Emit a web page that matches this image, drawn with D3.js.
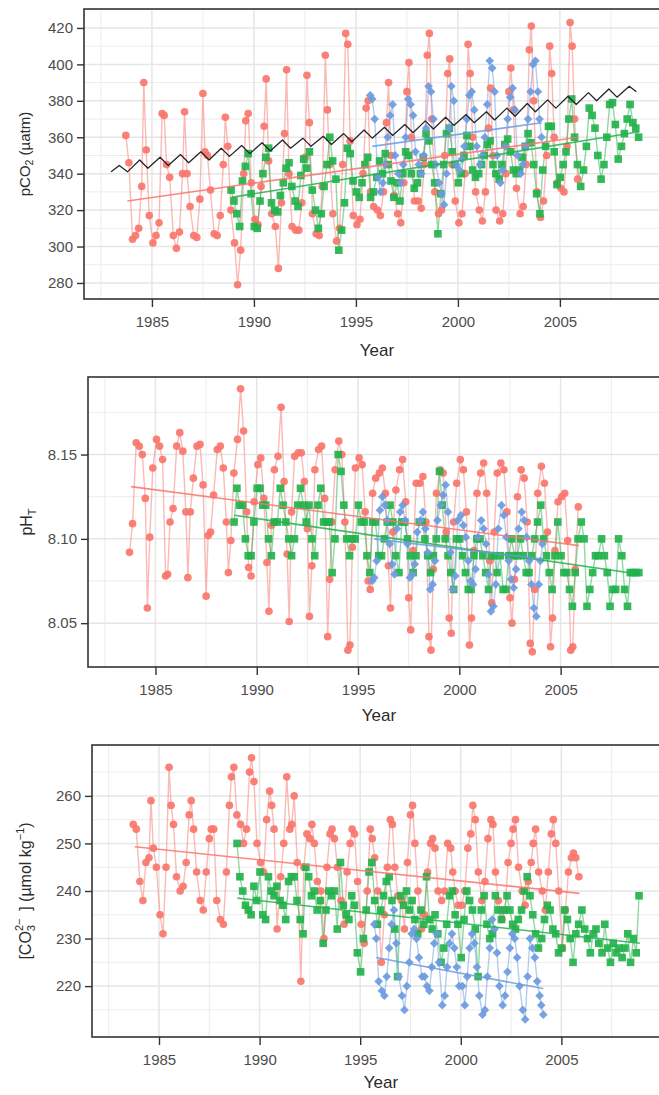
<!DOCTYPE html>
<html>
<head>
<meta charset="utf-8">
<script src="https://cdn.jsdelivr.net/npm/d3@7"></script>
<style>
  body { margin: 0; background: #fff; }
  svg { display: block; font-family: "Liberation Sans", Arial, sans-serif; }
</style>
</head>
<body>
<svg id="chart" width="659" height="1095"></svg>
<script>
// ---- data ----
// tick labels
const yearTicks = [1985, 1990, 1995, 2000, 2005];
const pco2Ticks = [280, 300, 320, 340, 360, 380, 400, 420];
const phTicks = [8.05, 8.10, 8.15];
const co3Ticks = [220, 230, 240, 250, 260];

// red station (circles)
const redYears = [
  1983.72,1983.87,
  1984.05,1984.2,1984.35,1984.5,1984.6,1984.72,1984.87,
  1985.05,1985.2,1985.35,1985.5,1985.6,1985.72,1985.87,
  1986.05,1986.2,1986.35,1986.5,1986.6,1986.72,1986.87,
  1987.05,1987.2,1987.35,1987.5,1987.6,1987.72,1987.87,
  1988.05,1988.2,1988.35,1988.5,1988.6,1988.72,1988.87,
  1989.05,1989.2,1989.35,1989.5,1989.6,1989.72,1989.87,
  1990.05,1990.2,1990.35,1990.5,1990.6,1990.72,1990.87,
  1991.05,1991.2,1991.35,1991.5,1991.6,1991.72,1991.87,
  1992.05,1992.2,1992.35,1992.5,1992.6,1992.72,1992.87,
  1993.05,1993.2,1993.35,1993.5,1993.6,1993.72,1993.87,
  1994.05,1994.2,1994.35,1994.5,1994.6,1994.72,1994.87,
  1995.05,1995.2,1995.35,1995.5,1995.6,1995.72,1995.87,
  1996.05,1996.2,1996.35,1996.5,1996.6,1996.72,1996.87,
  1997.05,1997.2,1997.35,1997.5,1997.6,1997.72,1997.87,
  1998.05,1998.2,1998.35,1998.5,1998.6,1998.72,1998.87,
  1999.05,1999.2,1999.35,1999.5,1999.6,1999.72,1999.87,
  2000.05,2000.2,2000.35,2000.5,2000.6,2000.72,2000.87,
  2001.05,2001.2,2001.35,2001.5,2001.6,2001.72,2001.87,
  2002.05,2002.2,2002.35,2002.5,2002.6,2002.72,2002.87,
  2003.05,2003.2,2003.35,2003.5,2003.6,2003.72,2003.87,
  2004.05,2004.2,2004.35,2004.5,2004.6,2004.72,2004.87,
  2005.05,2005.2,2005.35,2005.5,2005.6,2005.72,2005.87
];
const redPco2 = [
  361,346,
  304,306,310,333,390,353,317,
  302,306,313,373,372,345,338,
  306,299,308,340,374,340,322,
  306,305,326,384,352,350,331,
  307,306,317,345,371,355,320,
  302,279,298,340,369,373,335,
  315,312,333,366,392,347,318,
  311,288,324,362,397,340,311,
  309,309,324,349,394,368,318,
  307,306,333,405,375,345,318,
  303,310,345,417,411,358,317,
  312,315,340,376,380,330,322,
  320,317,330,368,390,350,328,
  318,313,335,385,401,360,325,
  325,321,345,405,417,370,330,
  318,320,350,395,403,345,325,
  313,318,340,411,395,360,330,
  320,314,330,365,387,350,320,
  314,318,340,385,398,375,332,
  318,322,345,408,421,380,330,
  316,325,350,410,395,360,335,
  332,330,355,423,410,370,337
];
const redPh = [
  8.092,8.109,
  8.157,8.155,8.150,8.124,8.059,8.101,8.142,
  8.159,8.155,8.147,8.078,8.079,8.110,8.118,
  8.155,8.163,8.152,8.116,8.077,8.116,8.136,
  8.155,8.156,8.132,8.066,8.102,8.104,8.126,
  8.153,8.155,8.142,8.110,8.080,8.099,8.139,
  8.159,8.189,8.164,8.116,8.083,8.078,8.122,
  8.144,8.148,8.124,8.086,8.057,8.108,8.141,
  8.149,8.178,8.134,8.091,8.051,8.116,8.149,
  8.151,8.151,8.134,8.106,8.054,8.084,8.141,
  8.153,8.155,8.124,8.042,8.076,8.110,8.141,
  8.158,8.150,8.110,8.034,8.037,8.095,8.142,
  8.148,8.144,8.116,8.075,8.070,8.127,8.136,
  8.139,8.142,8.127,8.084,8.059,8.104,8.129,
  8.141,8.147,8.122,8.065,8.046,8.093,8.133,
  8.133,8.137,8.110,8.042,8.034,8.082,8.127,
  8.141,8.139,8.104,8.053,8.044,8.110,8.133,
  8.147,8.141,8.116,8.037,8.053,8.093,8.127,
  8.139,8.145,8.127,8.087,8.062,8.104,8.139,
  8.145,8.141,8.116,8.065,8.050,8.076,8.125,
  8.141,8.136,8.110,8.038,8.033,8.070,8.127,
  8.143,8.133,8.104,8.036,8.053,8.093,8.122,
  8.125,8.127,8.099,8.034,8.036,8.082,8.119
];
const redCo3 = [
  254,253,
  242,238,246,247,259,249,245,
  235,231,245,266,258,254,243,
  240,241,246,256,259,253,244,
  238,236,244,251,253,253,238,
  234,233,244,258,264,266,256,
  254,250,253,265,268,263,250,
  246,244,255,261,258,253,232,
  243,250,264,253,254,260,246,
  221,245,252,251,254,250,242,
  240,230,245,252,253,251,245,
  238,233,244,250,253,252,242,
  233,229,240,253,251,247,240,
  225,235,245,255,254,245,239,
  238,232,246,256,258,250,240,
  232,235,244,250,251,249,240,
  238,240,250,249,244,240,237,
  237,240,249,252,258,255,244,
  238,242,251,255,254,244,238,
  234,236,246,250,253,255,245,
  240,237,242,246,250,253,244,
  240,236,244,252,255,250,240,
  228,236,244,247,248,247,243
];

// green station (squares)
const greenYears = [
  1988.88,
  1989.02,1989.16,1989.3,1989.44,1989.58,1989.72,1989.86,
  1990.02,1990.16,1990.3,1990.44,1990.58,1990.72,1990.86,
  1991.02,1991.16,1991.3,1991.44,1991.58,1991.72,1991.86,
  1992.02,1992.16,1992.3,1992.44,1992.58,1992.72,1992.86,
  1993.02,1993.16,1993.3,1993.44,1993.58,1993.72,1993.86,
  1994.02,1994.16,1994.3,1994.44,1994.58,1994.72,1994.86,
  1995.02,1995.16,1995.3,1995.44,1995.58,1995.72,1995.86,
  1996.02,1996.16,1996.3,1996.44,1996.58,1996.72,1996.86,
  1997.02,1997.16,1997.3,1997.44,1997.58,1997.72,1997.86,
  1998.02,1998.16,1998.3,1998.44,1998.58,1998.72,1998.86,
  1999.02,1999.16,1999.3,1999.44,1999.58,1999.72,1999.86,
  2000.02,2000.16,2000.3,2000.44,2000.58,2000.72,2000.86,
  2001.02,2001.16,2001.3,2001.44,2001.58,2001.72,2001.86,
  2002.02,2002.16,2002.3,2002.44,2002.58,2002.72,2002.86,
  2003.02,2003.16,2003.3,2003.44,2003.58,2003.72,2003.86,
  2004.02,2004.16,2004.3,2004.44,2004.58,2004.72,2004.86,
  2005.02,2005.16,2005.3,2005.44,2005.58,2005.72,2005.86,
  2006.02,2006.16,2006.3,2006.44,2006.58,2006.72,2006.86,
  2007.02,2007.16,2007.3,2007.44,2007.58,2007.72,2007.86,
  2008.02,2008.16,2008.3,2008.44,2008.58,2008.72,2008.86
];
const greenPco2 = [
  331,
  325,318,311,336,344,351,329,
  311,310,325,340,349,354,324,
  320,319,328,335,343,346,333,
  325,322,339,348,343,352,331,
  320,310,318,333,345,360,347,
  337,298,309,324,354,351,336,
  330,327,335,345,349,327,330,
  338,347,340,351,345,336,327,
  335,325,340,352,350,340,332,
  335,340,349,362,358,345,335,
  307,329,345,362,365,352,345,
  335,340,350,361,355,342,338,
  340,345,350,356,358,345,340,
  337,345,356,359,352,342,340,
  342,349,355,362,357,345,329,
  318,342,355,366,366,352,334,
  338,345,352,370,381,360,345,
  333,342,355,376,372,365,350,
  337,345,360,378,379,367,348,
  355,362,370,378,368,365,360
];
const greenPh = [
  8.11,
  8.13,8.12,8.12,8.10,8.09,8.09,8.11,
  8.13,8.13,8.12,8.12,8.10,8.09,8.11,
  8.11,8.13,8.12,8.11,8.10,8.09,8.10,
  8.12,8.13,8.12,8.11,8.12,8.10,8.09,
  8.12,8.13,8.11,8.11,8.11,8.08,8.10,
  8.15,8.14,8.12,8.10,8.09,8.10,8.10,
  8.12,8.11,8.11,8.09,8.08,8.11,8.11,
  8.09,8.09,8.10,8.11,8.12,8.11,8.09,
  8.08,8.11,8.11,8.10,8.09,8.08,8.09,
  8.11,8.11,8.10,8.09,8.08,8.09,8.10,
  8.14,8.12,8.10,8.09,8.08,8.07,8.10,
  8.10,8.09,8.08,8.07,8.07,8.09,8.10,
  8.10,8.09,8.08,8.07,8.09,8.09,8.08,
  8.09,8.07,8.07,8.09,8.10,8.09,8.09,
  8.10,8.09,8.08,8.08,8.09,8.10,8.11,
  8.12,8.10,8.09,8.08,8.07,8.09,8.11,
  8.09,8.08,8.08,8.07,8.06,8.08,8.10,
  8.11,8.10,8.06,8.07,8.08,8.09,8.09,
  8.10,8.09,8.08,8.06,8.07,8.07,8.10,
  8.09,8.07,8.06,8.08,8.08,8.08,8.08
];
const greenCo3 = [
  250,
  243,240,237,236,235,241,238,
  244,235,234,243,240,239,241,
  238,237,234,242,243,243,238,
  234,231,245,243,239,240,236,
  238,229,236,240,239,240,232,
  246,237,235,234,239,237,227,
  223,230,236,244,246,238,233,
  236,239,242,243,238,232,222,
  239,237,240,236,238,234,231,
  236,233,243,234,232,235,231,
  225,228,233,239,240,235,233,
  226,234,240,238,236,232,222,
  236,239,233,230,231,239,236,
  234,236,239,236,233,232,234,
  236,240,243,239,235,231,228,
  230,234,237,236,232,231,227,
  228,236,234,230,225,231,233,
  236,232,230,227,231,232,229,
  227,233,228,225,229,227,228,
  226,228,231,225,230,227,239
];

// blue station (diamonds)
const blueYears = [
  1995.7,1995.8,1995.92,
  1996.08,1996.2,1996.32,1996.44,1996.56,1996.68,1996.8,1996.92,
  1997.08,1997.2,1997.32,1997.44,1997.56,1997.68,1997.8,1997.92,
  1998.08,1998.2,1998.32,1998.44,1998.56,1998.68,1998.8,1998.92,
  1999.08,1999.2,1999.32,1999.44,1999.56,1999.68,1999.8,1999.92,
  2000.08,2000.2,2000.32,2000.44,2000.56,2000.68,2000.8,2000.92,
  2001.08,2001.2,2001.32,2001.44,2001.56,2001.68,2001.8,2001.92,
  2002.08,2002.2,2002.32,2002.44,2002.56,2002.68,2002.8,2002.92,
  2003.08,2003.2,2003.32,2003.44,2003.56,2003.68,2003.8,2003.92,
  2004.0,2004.1
];
const bluePco2 = [
  383,381,370,
  338,330,335,345,360,372,378,350,
  340,335,345,360,381,378,372,352,
  345,340,350,365,388,385,370,345,
  335,329,323,340,365,388,380,345,
  342,348,355,370,383,385,375,355,
  345,350,360,378,402,398,385,350,
  335,342,355,370,382,387,375,350,
  340,345,355,370,385,400,402,385,
  370,360
];
const bluePh = [
  8.075,8.077,8.087,
  8.117,8.125,8.120,8.111,8.097,8.085,8.079,8.106,
  8.116,8.120,8.111,8.097,8.077,8.079,8.085,8.104,
  8.111,8.116,8.106,8.092,8.070,8.073,8.087,8.111,
  8.120,8.126,8.132,8.116,8.092,8.070,8.078,8.111,
  8.114,8.108,8.101,8.087,8.075,8.073,8.082,8.101,
  8.111,8.106,8.097,8.079,8.057,8.060,8.073,8.106,
  8.120,8.114,8.101,8.087,8.076,8.071,8.082,8.106,
  8.116,8.111,8.101,8.087,8.073,8.059,8.054,8.073,
  8.087,8.097
];
const blueCo3 = [
  233,230,221,
  219,218,222,228,233,236,229,222,
  218,215,220,225,231,232,230,226,
  222,222,220,219,224,229,231,225,
  216,218,224,229,231,228,224,220,
  220,216,222,228,231,229,224,218,
  214,215,222,228,234,232,227,220,
  216,218,223,228,231,230,226,220,
  215,213,222,230,228,226,221,218,
  216,214
];

// linear trends (end points)
const redTrendYears = [1983.8, 2005.9];
const redTrendPco2 = [325, 360];
const redTrendPh = [8.131, 8.096];
const redTrendCo3 = [249.3, 239.5];
const greenTrendYears = [1988.9, 2008.9];
const greenTrendPco2 = [327, 363];
const greenTrendPh = [8.114, 8.079];
const greenTrendCo3 = [238.5, 229];
const blueTrendYears = [1995.8, 2004.1];
const blueTrendPco2 = [355, 368];
const blueTrendPh = [8.100, 8.088];
const blueTrendCo3 = [226, 219.5];

// atmospheric pCO2 (black line, panel 1)
const atmYears = [
  1983.0,1983.4,1983.8,1984.4,1984.8,1985.4,1985.8,1986.4,1986.8,1987.4,1987.8,
  1988.4,1988.8,1989.4,1989.8,1990.4,1990.8,1991.4,1991.8,1992.4,1992.8,
  1993.4,1993.8,1994.4,1994.8,1995.4,1995.8,1996.4,1996.8,1997.4,1997.8,
  1998.4,1998.8,1999.4,1999.8,2000.4,2000.8,2001.4,2001.8,2002.4,2002.8,
  2003.4,2003.8,2004.4,2004.8,2005.4,2005.8,2006.4,2006.8,2007.4,2007.8,
  2008.4,2008.75
];
const atmPco2 = [
  341,344.5,341,347.5,343,349,344.5,350.5,346,352,347.5,
  354,349.5,355.5,351,357,352.5,358.5,354,359.5,355,
  360.5,356,362,357.5,364,359.5,365.5,361,367,362.5,
  369,364.5,371,366.5,372.5,368,374,369.5,376,371.5,
  378.5,374,380.5,376,382.5,378,384.5,380,386.5,382,
  388,385
];

// ---- layout ----
const svg = d3.select('#chart');
const xDomain = [1981.67, 2010.3];
const plotRight = 668;
const yearMinor = d3.range(1982.5, 2010, 5);

const stations = [
  { color: '#F8766D', shape: d3.symbolCircle, size: 46, rot: 0, years: redYears,
    pco2: redPco2, ph: redPh, co3: redCo3,
    tYears: redTrendYears, tpco2: redTrendPco2, tph: redTrendPh, tco3: redTrendCo3 },
  { color: '#23b24b', shape: d3.symbolSquare, size: 58, rot: 0, years: greenYears,
    pco2: greenPco2, ph: greenPh, co3: greenCo3,
    tYears: greenTrendYears, tpco2: greenTrendPco2, tph: greenTrendPh, tco3: greenTrendCo3 },
  { color: '#6c9be0', shape: d3.symbolSquare, size: 38, rot: 45, years: blueYears,
    pco2: bluePco2, ph: bluePh, co3: blueCo3,
    tYears: blueTrendYears, tpco2: blueTrendPco2, tph: blueTrendPh, tco3: blueTrendCo3 }
];

const panels = [
  { key: 'pco2', top: 9, bottom: 299, left: 84, dom: [271.2, 430.4], ticks: pco2Ticks,
    minor: d3.range(290, 420, 20), fmt: d3.format('d'), yearY: 356, titleX: 30 },
  { key: 'ph', top: 377, bottom: 667, left: 88, dom: [8.024, 8.196], ticks: phTicks,
    minor: [8.075, 8.125, 8.175], fmt: d3.format('.2f'), yearY: 721, titleX: 32 },
  { key: 'co3', top: 745, bottom: 1037, left: 92, dom: [209.3, 270.7], ticks: co3Ticks,
    minor: [215, 225, 235, 245, 255, 265], fmt: d3.format('d'), yearY: 1088, titleX: 31 }
];

function drawPanel(p) {
  const g = svg.append('g');
  const x = d3.scaleLinear().domain(xDomain).range([p.left, plotRight]);
  const y = d3.scaleLinear().domain(p.dom).range([p.bottom, p.top]);

  svg.append('clipPath').attr('id', 'clip-' + p.key)
    .append('rect').attr('x', p.left).attr('y', p.top)
    .attr('width', plotRight - p.left).attr('height', p.bottom - p.top);

  // grid
  const grid = g.append('g');
  grid.selectAll('.vmin').data(yearMinor).enter().append('line')
    .attr('x1', d => x(d)).attr('x2', d => x(d)).attr('y1', p.top).attr('y2', p.bottom)
    .attr('stroke', '#ececec').attr('stroke-width', 1);
  grid.selectAll('.hmin').data(p.minor).enter().append('line')
    .attr('x1', p.left).attr('x2', plotRight).attr('y1', d => y(d)).attr('y2', d => y(d))
    .attr('stroke', '#ececec').attr('stroke-width', 1);
  grid.selectAll('.vmaj').data(yearTicks).enter().append('line')
    .attr('x1', d => x(d)).attr('x2', d => x(d)).attr('y1', p.top).attr('y2', p.bottom)
    .attr('stroke', '#e6e6e6').attr('stroke-width', 1.5);
  grid.selectAll('.hmaj').data(p.ticks).enter().append('line')
    .attr('x1', p.left).attr('x2', plotRight).attr('y1', d => y(d)).attr('y2', d => y(d))
    .attr('stroke', '#e6e6e6').attr('stroke-width', 1.5);

  const plot = g.append('g').attr('clip-path', 'url(#clip-' + p.key + ')');
  const line = d3.line().x(d => x(d[0])).y(d => y(d[1]));

  // connecting lines
  stations.forEach(s => {
    const pts = s.years.map((t, i) => [t, s[p.key][i]]);
    plot.append('path').datum(pts).attr('d', line)
      .attr('fill', 'none').attr('stroke', s.color)
      .attr('stroke-opacity', 0.5).attr('stroke-width', 1.4);
  });
  // points
  stations.forEach(s => {
    const pts = s.years.map((t, i) => [t, s[p.key][i]]);
    plot.append('g').selectAll('path').data(pts).enter().append('path')
      .attr('d', d3.symbol().type(s.shape).size(s.size))
      .attr('transform', d => 'translate(' + x(d[0]) + ',' + y(d[1]) + ') rotate(' + s.rot + ')')
      .attr('fill', s.color).attr('fill-opacity', 0.92);
  });
  // trend lines
  stations.forEach(s => {
    const pts = s.tYears.map((t, i) => [t, s['t' + p.key][i]]);
    plot.append('path').datum(pts).attr('d', line)
      .attr('fill', 'none').attr('stroke', s.color)
      .attr('stroke-opacity', 0.85).attr('stroke-width', 1.6);
  });
  // atmospheric line
  if (p.key === 'pco2') {
    const pts = atmYears.map((t, i) => [t, atmPco2[i]]);
    plot.append('path').datum(pts).attr('d', line)
      .attr('fill', 'none').attr('stroke', '#262626').attr('stroke-width', 1.3)
      .attr('stroke-linejoin', 'round');
  }

  // border
  g.append('rect').attr('x', p.left).attr('y', p.top)
    .attr('width', plotRight - p.left).attr('height', p.bottom - p.top)
    .attr('fill', 'none').attr('stroke', '#333').attr('stroke-width', 1.6);

  // axes
  const ax = g.append('g').attr('transform', 'translate(0,' + p.bottom + ')')
    .call(d3.axisBottom(x).tickValues(yearTicks).tickFormat(d3.format('d')).tickSize(8));
  const ay = g.append('g').attr('transform', 'translate(' + p.left + ',0)')
    .call(d3.axisLeft(y).tickValues(p.ticks).tickFormat(p.fmt).tickSize(7).tickPadding(4));
  [ax, ay].forEach(a => {
    a.attr('font-family', null).attr('font-size', 15);
    a.select('.domain').remove();
    a.selectAll('.tick line').attr('stroke', '#333').attr('stroke-width', 1.4);
    a.selectAll('.tick text').attr('fill', '#4d4d4d');
  });
  ax.selectAll('.tick text').attr('dy', null).attr('y', 28);

  // x title
  g.append('text').attr('x', (p.left + plotRight) / 2 + 1).attr('y', p.yearY)
    .attr('text-anchor', 'middle').attr('font-size', 17).attr('fill', '#2b2b2b')
    .text('Year');

  // y title
  const cy = (p.top + p.bottom) / 2;
  const t = g.append('text')
    .attr('transform', 'translate(' + p.titleX + ',' + cy + ') rotate(-90)')
    .attr('text-anchor', 'middle').attr('font-size', 15).attr('fill', '#2b2b2b');
  if (p.key === 'pco2') {
    t.append('tspan').text('pCO');
    t.append('tspan').attr('dy', 3).attr('font-size', 10.5).text('2');
    t.append('tspan').attr('dy', -3).text(' (µatm)');
  } else if (p.key === 'ph') {
    t.append('tspan').attr('font-size', 16).text('pH');
    t.append('tspan').attr('dy', 4).attr('font-size', 11).text('T');
  } else {
    t.attr('font-size', 16);
    t.append('tspan').text('[CO');
    t.append('tspan').attr('dy', 4).attr('font-size', 11).text('3');
    t.append('tspan').attr('dx', -6).attr('dy', -12).attr('font-size', 11).text('2\u2212');
    t.append('tspan').attr('dy', 8).text('\u2009 ] (µmol kg');
    t.append('tspan').attr('dy', -7).attr('font-size', 11).text('\u22121');
    t.append('tspan').attr('dy', 7).text(')');
  }
}

panels.forEach(drawPanel);
</script>
</body>
</html>
